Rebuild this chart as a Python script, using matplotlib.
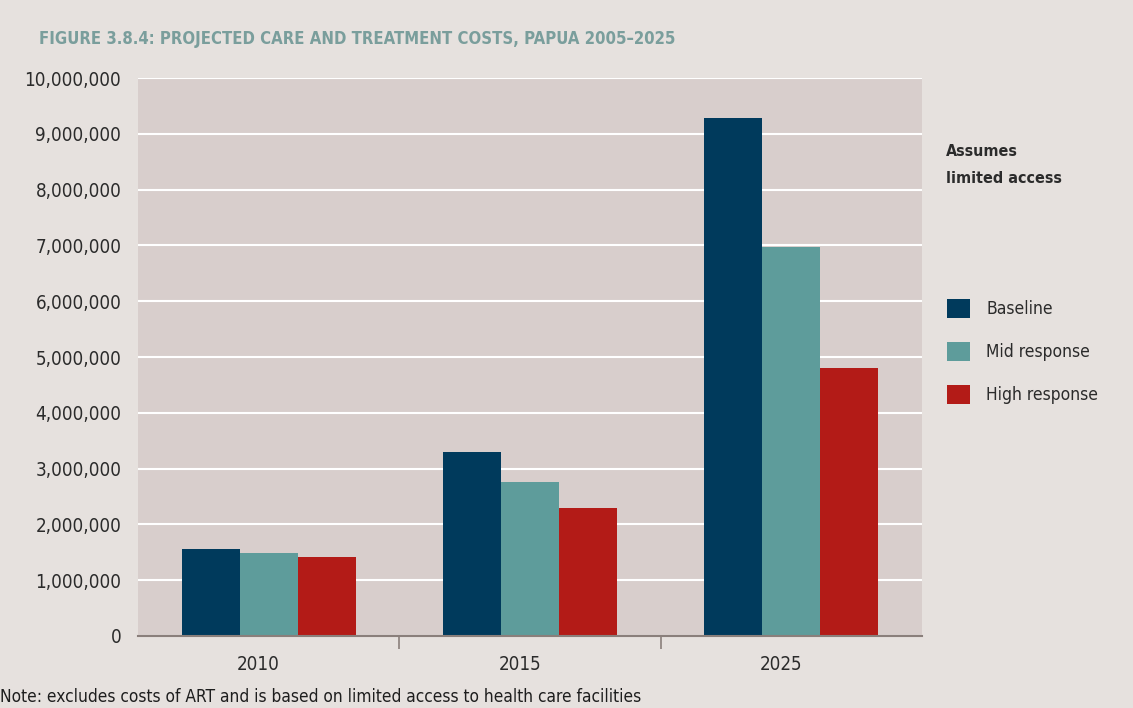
import numpy as np
import matplotlib
matplotlib.use('Agg')
import matplotlib.pyplot as plt
from matplotlib.ticker import FuncFormatter, FixedLocator
from matplotlib.transforms import ScaledTranslation

# data
years = ['2010', '2015', '2025']
baseline = [1560000, 3300000, 9280000]
mid_response = [1490000, 2760000, 6970000]
high_response = [1420000, 2290000, 4800000]
series_names = ['Baseline', 'Mid response', 'High response']
series_colors = ['#003a5c', '#5e9c9b', '#b31b17']

plt.rcParams['font.family'] = ['DejaVu Sans']
plt.rcParams['font.stretch'] = 'condensed'

fig = plt.figure(figsize=(11.33, 7.08), dpi=100, facecolor='#e6e1de')
ax = fig.add_axes([0.1218, 0.1017, 0.692, 0.788])
ax.set_facecolor('#d8cecc')

x = np.arange(len(years))
w = 0.222
handles = []
for i, (vals, name, col) in enumerate(zip([baseline, mid_response, high_response], series_names, series_colors)):
    b = ax.bar(x + (i - 1) * w, vals, w, color=col, label=name, zorder=3)
    handles.append(b)

ax.set_xlim(-0.5, 2.5)
ax.set_ylim(0, 10000000)
ax.set_yticks(np.arange(0, 10000001, 1000000))
ax.yaxis.set_major_formatter(FuncFormatter(lambda v, p: '{:,.0f}'.format(v)))
ax.grid(axis='y', color='white', linewidth=1.5, zorder=1)
ax.set_axisbelow(True)

ax.set_xticks(x)
ax.set_xticklabels(years)
ax.xaxis.set_minor_locator(FixedLocator([0.5, 1.5]))
ax.tick_params(axis='x', which='major', length=0, pad=14, labelsize=13.5, labelcolor='#2b2b2b')
ax.tick_params(axis='x', which='minor', length=9, width=1.2, color='#8a7f7b', direction='out')
ax.tick_params(axis='y', length=0, pad=12, labelsize=13.5, labelcolor='#2b2b2b')
# year labels sit a little left of the group centres in the original
for lab in ax.get_xticklabels():
    lab.set_transform(lab.get_transform() + ScaledTranslation(-0.1, 0, fig.dpi_scale_trans))

for s in ['top', 'right', 'left']:
    ax.spines[s].set_visible(False)
ax.spines['bottom'].set_color('#8a7f7b')
ax.spines['bottom'].set_linewidth(1.5)
ax.spines['bottom'].set_zorder(4)

fig.text(0.034, 0.945, 'FIGURE 3.8.4: PROJECTED CARE AND TREATMENT COSTS, PAPUA 2005\u20132025',
         fontsize=12, fontweight='bold', color='#7a9e9c', va='center', ha='left')
fig.text(0.835, 0.767, 'Assumes\nlimited access', fontsize=11.5, fontweight='bold',
         color='#2b2b2b', va='center', ha='left', linespacing=1.95)

leg = fig.legend(handles=handles, labels=series_names, loc='center left',
                 bbox_to_anchor=(0.8358, 0.5035), frameon=False, fontsize=12.5,
                 borderpad=0, borderaxespad=0,
                 handlelength=1.33, handleheight=1.33, handletextpad=0.92, labelspacing=1.35)
for t in leg.get_texts():
    t.set_color('#2b2b2b')

fig.text(0.0, 0.016, 'Note: excludes costs of ART and is based on limited access to health care facilities',
         fontsize=12.4, color='#1e1e1e', va='center', ha='left')

fig.savefig('out.png', dpi=100, facecolor=fig.get_facecolor())
